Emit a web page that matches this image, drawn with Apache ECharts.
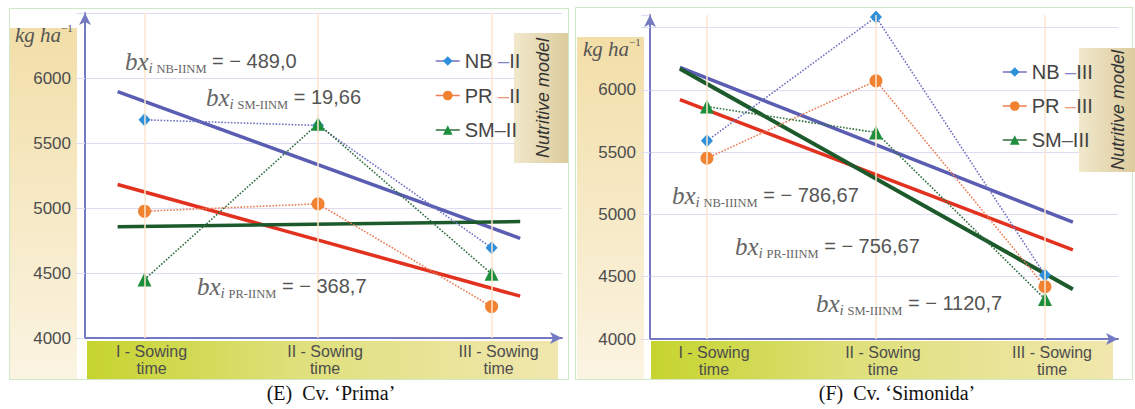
<!DOCTYPE html>
<html>
<head>
<meta charset="utf-8">
<script src="https://cdn.jsdelivr.net/npm/echarts@6.0.0/dist/echarts.min.js"></script>
<style>
html,body{margin:0;padding:0;background:#fff;}
#c{width:1135px;height:409px;}
</style>
</head>
<body>
<div id="c"></div>
<script>
// ---------- data ----------
const categories = ['I - Sowing\ntime', 'II - Sowing\ntime', 'III - Sowing\ntime'];
const yTickLabels = [4000, 4500, 5000, 5500, 6000];

// Panel (E) Cv. 'Prima'
const nbE = [5678, 5635, 4694];
const prE = [4975, 5032, 4242];
const smE = [4450, 5648, 4494];
const trendSpanE = [-0.155, 2.165];
const nbTrendE = [5896, 4766];
const prTrendE = [5181, 4322];
const smTrendE = [4856, 4896];
const slopeE = { NB: '− 489,0', SM: '19,66', PR: '− 368,7' };

// Panel (F) Cv. 'Simonida'
const nbF = [5590, 6584, 4514];
const prF = [5451, 6072, 4420];
const smF = [5865, 5657, 4321];
const trendSpanF = [-0.16, 2.165];
const nbTrendF = [6179, 4937];
const prTrendF = [5920, 4715];
const smTrendF = [6169, 4399];
const slopeF = { NB: '− 786,67', PR: '− 756,67', SM: '− 1120,7' };

// ---------- styles ----------
const C = {
  nbLine: '#6f73c2', nbMark: '#2e8fdb', nbTrend: '#5a5db2',
  prLine: '#ec7c52', prMark: '#f08232', prTrend: '#e2321f',
  smLine: '#2f6e3e', smMark: '#1d8f3c', smTrend: '#1c5a2c',
  axis: '#7479c2', grid: '#dedcf0', text: '#4d4d4d'
};
const SANS = '"Liberation Sans", Arial, sans-serif';
const SERIF = '"Liberation Serif", "Times New Roman", serif';

function pts(vals) { return vals.map((v, i) => [i, v]); }
function trend(span, vals) { return span.map((x, i) => [x, vals[i]]); }

function xAxisFor(gi, min, max) {
  return {
    type: 'value', gridIndex: gi, min: min, max: max,
    axisLine: { show: true, onZero: false, lineStyle: { color: C.axis, width: 2 }, symbol: ['none', 'arrow'], symbolSize: [9, 12] },
    axisTick: { show: false },
    splitLine: { show: false },
    axisLabel: {
      customValues: [0, 1, 2],
      formatter: v => categories[Math.round(v)],
      fontSize: 16, lineHeight: 17, color: C.text, fontFamily: SANS, margin: 5,
      padding: [0, 0, 0, 14]
    }
  };
}
function yAxisFor(gi, max, showMax) {
  return {
    type: 'value', gridIndex: gi, min: 4000, max: max, interval: 500,
    axisLine: { show: true, onZero: false, lineStyle: { color: C.axis, width: 2 }, symbol: ['none', 'arrow'], symbolSize: [9, 12] },
    axisTick: { show: true, length: 9, lineStyle: { color: C.grid } },
    splitLine: { show: true, showMinLine: false, showMaxLine: showMax, lineStyle: { color: C.grid, width: 1 } },
    axisLabel: {
      formatter: v => (yTickLabels.indexOf(v) >= 0 ? String(v) : ''),
      fontSize: 17, color: C.text, fontFamily: SANS, margin: 14
    }
  };
}

function trendSeries(name, gi, data, color, width, extra) {
  return Object.assign({
    name: name, type: 'line', xAxisIndex: gi, yAxisIndex: gi,
    data: data, showSymbol: false, symbol: 'none', silent: true,
    lineStyle: { color: color, width: width }, z: 2
  }, extra || {});
}
function pointSeries(name, gi, data, lineColor, markColor, symbol, size) {
  return {
    name: name, type: 'line', xAxisIndex: gi, yAxisIndex: gi,
    data: data, symbol: symbol, symbolSize: size, showSymbol: true, clip: false,
    lineStyle: { color: lineColor, width: 1.6, type: 'dotted' },
    itemStyle: { color: markColor, borderWidth: 0 }, z: 3
  };
}
const catLines = {
  silent: true, symbol: 'none', label: { show: false },
  lineStyle: { color: '#fbe6cc', width: 1.5, type: 'solid' },
  data: [{ xAxis: 0 }, { xAxis: 1 }, { xAxis: 2 }]
};

function ann(sub, val, left, cy) {
  return {
    left: left, top: cy - 14, padding: 0,
    text: '{bx|bx}{i|i }{s|' + sub + '}{eq| = ' + val + '}',
    textStyle: {
      fontWeight: 'normal',
      rich: {
        bx: { fontFamily: SERIF, fontStyle: 'italic', fontSize: 25, color: '#666', lineHeight: 28, verticalAlign: 'middle' },
        i: { fontFamily: SERIF, fontStyle: 'italic', fontSize: 15, color: '#666', lineHeight: 18, verticalAlign: 'bottom' },
        s: { fontFamily: SERIF, fontSize: 12.5, color: '#666', lineHeight: 14, verticalAlign: 'bottom' },
        eq: { fontFamily: SANS, fontSize: 20, color: '#555', lineHeight: 28, verticalAlign: 'middle' }
      }
    }
  };
}
function unitTitle(left, cy) {
  return {
    left: left, top: cy - 13, padding: 0,
    text: '{k|kg ha}{s|−1}',
    textStyle: {
      fontWeight: 'normal',
      rich: {
        k: { fontFamily: SERIF, fontStyle: 'italic', fontSize: 21, color: '#555', lineHeight: 26, verticalAlign: 'middle' },
        s: { fontFamily: SERIF, fontSize: 11, color: '#555', lineHeight: 11, verticalAlign: 'top' }
      }
    }
  };
}
function caption(text, cx) {
  return {
    left: cx, top: 383, padding: 0, textAlign: 'center', text: text,
    textStyle: { fontFamily: SERIF, fontSize: 20, fontWeight: 'normal', color: '#111' }
  };
}

const legendRich = {
  t: { fontFamily: SANS, fontSize: 20, color: '#444' },
  nb: { fontFamily: SANS, fontSize: 20, color: '#7f83cc' },
  pr: { fontFamily: SANS, fontSize: 20, color: '#f09a7c' },
  sm: { fontFamily: SANS, fontSize: 20, color: '#555' }
};
function legendFormatter(name) {
  const [k, r] = name.split('-');
  if (k === 'NB') return '{t|NB }{nb|–}{t|' + r + '}';
  if (k === 'PR') return '{t|PR }{pr|–}{t|' + r + '}';
  return '{t|SM}{sm|–}{t|' + r + '}';
}
function legendFor(names, left, top, gap) {
  return {
    data: names, orient: 'vertical', left: left, top: top, padding: 0, z: 8,
    itemGap: gap, itemWidth: 24, itemHeight: 12, selectedMode: false,
    formatter: legendFormatter,
    lineStyle: { type: 'solid', width: 1.5 },
    textStyle: { fontSize: 20, lineHeight: 20, color: '#444', fontFamily: SANS, rich: legendRich }
  };
}

const bandGrad = { type: 'linear', x: 0, y: 0, x2: 1, y2: 0,
  colorStops: [{ offset: 0, color: '#c6d42e' }, { offset: 0.45, color: '#dfe07c' }, { offset: 1, color: '#f1e7ae' }] };
const tanGrad = { type: 'linear', x: 0, y: 0, x2: 0, y2: 1,
  colorStops: [{ offset: 0, color: '#f2dea8' }, { offset: 1, color: '#fbf4e2' }] };
const boxGrad = { type: 'linear', x: 0, y: 0, x2: 1, y2: 0,
  colorStops: [{ offset: 0, color: '#f1e8cc' }, { offset: 1, color: '#dccb9c' }] };

function modelBox(x, y, w, h, tx, ty) {
  return [
    { type: 'rect', z: 1, shape: { x: x, y: y, width: w, height: h }, style: { fill: boxGrad } },
    { type: 'text', z: 1, x: tx, y: ty, rotation: Math.PI / 2,
      style: { text: 'Nutritive model', font: 'italic 18px "Liberation Sans", Arial, sans-serif', fill: '#333',
        textAlign: 'center', align: 'center', textVerticalAlign: 'middle', verticalAlign: 'middle' } }
  ];
}

const option = {
  animation: false,
  backgroundColor: '#ffffff',
  grid: [
    { left: 85, right: 573, top: 13, bottom: 71, containLabel: false },
    { left: 650, right: 17, top: 15, bottom: 70, containLabel: false }
  ],
  xAxis: [xAxisFor(0, -0.343, 2.406), xAxisFor(1, -0.337, 2.432)],
  yAxis: [yAxisFor(0, 6500, true), yAxisFor(1, 6600, false)],
  legend: [
    legendFor(['NB-II', 'PR-II', 'SM-II'], 435, 51, 14.5),
    legendFor(['NB-III', 'PR-III', 'SM-III'], 1002, 62, 14)
  ],
  title: [
    unitTitle(15, 35), unitTitle(583, 49),
    ann('NB-IINM', slopeE.NB, 125, 61),
    ann('SM-IINM', slopeE.SM, 206, 97),
    ann('PR-IINM', slopeE.PR, 197, 286),
    ann('NB-IIINM', slopeF.NB, 672, 195),
    ann('PR-IIINM', slopeF.PR, 735, 246),
    ann('SM-IIINM', slopeF.SM, 816, 303),
    caption('(E)  Cv. ‘Prima’', 331),
    caption('(F)  Cv. ‘Simonida’', 897)
  ],
  graphic: [
    { type: 'rect', z: -10, shape: { x: 9.5, y: 8.5, width: 559, height: 371 }, style: { fill: 'none', stroke: '#cfe8c6', lineWidth: 1 } },
    { type: 'rect', z: -10, shape: { x: 575.5, y: 7.5, width: 557, height: 372 }, style: { fill: 'none', stroke: '#cfe8c6', lineWidth: 1 } },
    { type: 'rect', z: -9, shape: { x: 10, y: 28, width: 67, height: 351 }, style: { fill: tanGrad } },
    { type: 'rect', z: -9, shape: { x: 577, y: 37, width: 67, height: 342 }, style: { fill: tanGrad } },
    { type: 'rect', z: -9, shape: { x: 87, y: 341, width: 471, height: 38 }, style: { fill: bandGrad } },
    { type: 'rect', z: -9, shape: { x: 651, y: 341, width: 462, height: 38 }, style: { fill: bandGrad } }
  ].concat(modelBox(514, 33, 54, 130, 543, 98), modelBox(1079, 48, 56, 124, 1118, 110)),
  series: [
    trendSeries('tNB-II', 0, trend(trendSpanE, nbTrendE), C.nbTrend, 3.5, { markLine: catLines }),
    trendSeries('tPR-II', 0, trend(trendSpanE, prTrendE), C.prTrend, 3.5),
    trendSeries('tSM-II', 0, trend(trendSpanE, smTrendE), C.smTrend, 3.5),
    pointSeries('NB-II', 0, pts(nbE), C.nbLine, C.nbMark, 'diamond', [12, 13]),
    pointSeries('PR-II', 0, pts(prE), C.prLine, C.prMark, 'circle', 13),
    pointSeries('SM-II', 0, pts(smE), C.smLine, C.smMark, 'triangle', 14),

    trendSeries('tNB-III', 1, trend(trendSpanF, nbTrendF), C.nbTrend, 3.5, { markLine: catLines }),
    trendSeries('tPR-III', 1, trend(trendSpanF, prTrendF), C.prTrend, 3.5),
    trendSeries('tSM-III', 1, trend(trendSpanF, smTrendF), C.smTrend, 4),
    pointSeries('NB-III', 1, pts(nbF), C.nbLine, C.nbMark, 'diamond', [12, 13]),
    pointSeries('PR-III', 1, pts(prF), C.prLine, C.prMark, 'circle', 13),
    pointSeries('SM-III', 1, pts(smF), C.smLine, C.smMark, 'triangle', 14)
  ]
};

const chart = echarts.init(document.getElementById('c'), null, { renderer: 'svg' });
chart.setOption(option);
</script>
</body>
</html>
